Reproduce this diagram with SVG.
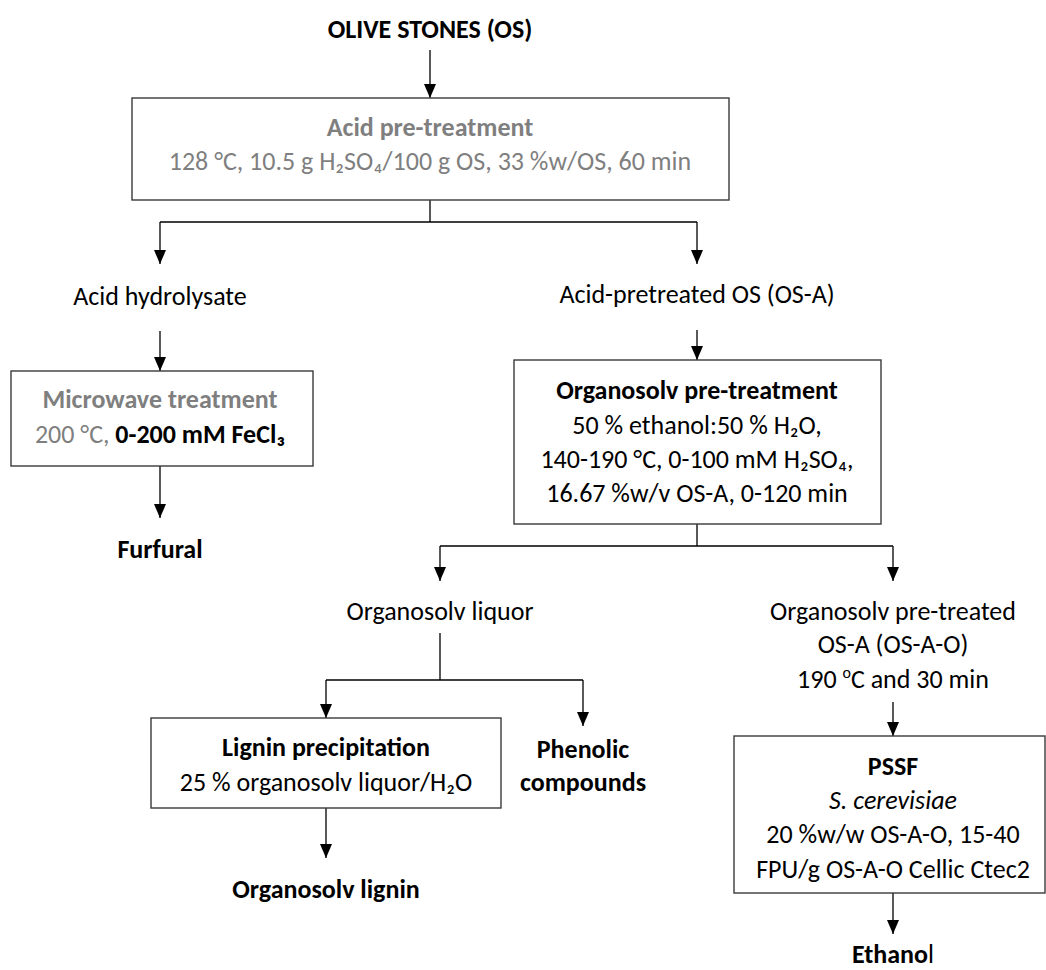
<svg xmlns="http://www.w3.org/2000/svg" width="1046" height="970" viewBox="0 0 1046 970">
<style>
text{font-family:Carlito,Lato,"Liberation Sans",sans-serif;font-size:26px;fill:#000;text-anchor:middle}
.b{font-weight:bold}
.g{fill:#7f7f7f}
.i{font-style:italic}
.box{fill:#fff;stroke:#3a3a3a;stroke-width:1.4}
.c{fill:none;stroke:#000;stroke-width:1.3}
.a{marker-end:url(#ah)}
</style>
<defs>
<marker id="ah" viewBox="0 0 14 12" refX="14" refY="6" markerWidth="14" markerHeight="12" markerUnits="userSpaceOnUse" orient="auto">
<path d="M0,0 L14,6 L0,12 z" fill="#000"/>
</marker>
</defs>
<rect width="1046" height="970" fill="#fff"/>
<g id="connectors">
<path class="c a" d="M430,50 V98"/>
<path class="c" d="M430,200 V222 M160,222 H697"/>
<path class="c a" d="M160,222 V264"/>
<path class="c a" d="M697,222 V264"/>
<path class="c a" d="M160,331 V371"/>
<path class="c a" d="M160,466 V518"/>
<path class="c a" d="M697,330 V360"/>
<path class="c" d="M697,524 V546 M440,546 H893"/>
<path class="c a" d="M440,546 V581"/>
<path class="c a" d="M893,546 V581"/>
<path class="c" d="M440,633 V680 M326,680 H583"/>
<path class="c a" d="M326,680 V718"/>
<path class="c a" d="M583,680 V726"/>
<path class="c a" d="M326,808 V858"/>
<path class="c a" d="M893,702 V736"/>
<path class="c a" d="M893,893 V934"/>
</g>
<g id="olive-stones"><text class="b" x="430" y="38">OLIVE STONES (OS)</text></g>
<g id="acid-pretreatment">
<rect class="box" x="132" y="98" width="597" height="102"/>
<text class="b g" x="430" y="136">Acid pre-treatment</text>
<text class="g" x="430" y="170">128 °C, 10.5 g H₂SO₄/100 g OS, 33 %w/OS, 60 min</text>
</g>
<g id="acid-hydrolysate"><text x="160" y="305">Acid hydrolysate</text></g>
<g id="acid-pretreated-os"><text x="697" y="303">Acid-pretreated OS (OS-A)</text></g>
<g id="microwave">
<rect class="box" x="11" y="371" width="302" height="95"/>
<text class="b g" x="160" y="408">Microwave treatment</text>
<text x="160" y="443"><tspan class="g">200 °C, </tspan><tspan class="b">0-200 mM FeCl₃</tspan></text>
</g>
<g id="furfural"><text class="b" x="160" y="558">Furfural</text></g>
<g id="organosolv-pretreatment">
<rect class="box" x="514" y="360" width="367" height="164"/>
<text class="b" x="697" y="399">Organosolv pre-treatment</text>
<text x="697" y="434">50 % ethanol:50 % H₂O,</text>
<text x="697" y="468">140-190 °C, 0-100 mM H₂SO₄,</text>
<text x="697" y="502">16.67 %w/v OS-A, 0-120 min</text>
</g>
<g id="organosolv-liquor"><text x="440" y="620">Organosolv liquor</text></g>
<g id="organosolv-pretreated-osa">
<text x="893" y="620">Organosolv pre-treated</text>
<text x="893" y="653">OS-A (OS-A-O)</text>
<text x="893" y="688">190 <tspan font-size="16" dy="-10">o</tspan><tspan dy="10">C and 30 min</tspan></text>
</g>
<g id="lignin-precipitation">
<rect class="box" x="151" y="718" width="350" height="90"/>
<text class="b" x="326" y="756">Lignin precipitation</text>
<text x="326" y="791">25 % organosolv liquor/H₂O</text>
</g>
<g id="phenolic"><text class="b" x="583" y="758">Phenolic</text><text class="b" x="583" y="791">compounds</text></g>
<g id="organosolv-lignin"><text class="b" x="326" y="898">Organosolv lignin</text></g>
<g id="pssf">
<rect class="box" x="734" y="736" width="311" height="157"/>
<text class="b" x="893" y="775">PSSF</text>
<text class="i" x="893" y="809">S. cerevisiae</text>
<text x="893" y="843">20 %w/w OS-A-O, 15-40</text>
<text x="893" y="878">FPU/g OS-A-O Cellic Ctec2</text>
</g>
<g id="ethanol"><text x="893" y="963"><tspan class="b">Ethano</tspan>l</text></g>
</svg>
